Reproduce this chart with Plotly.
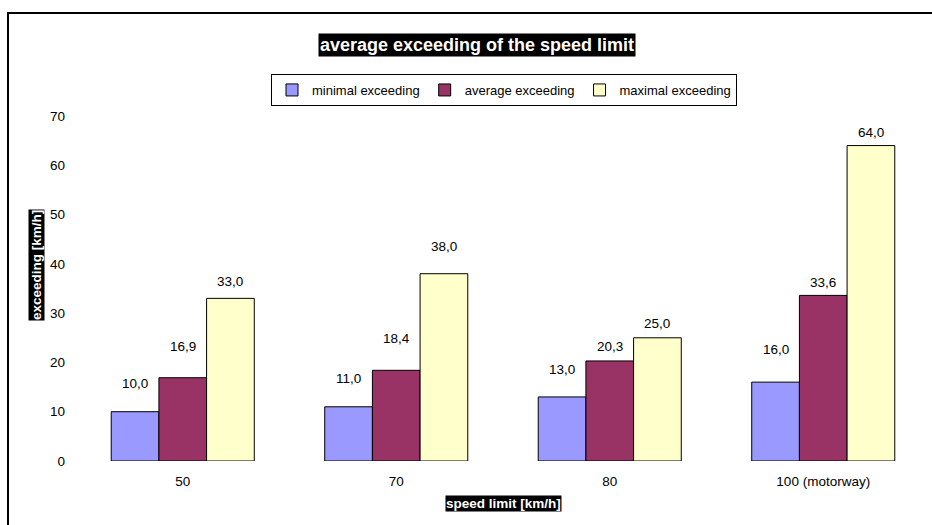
import plotly.graph_objects as go

categories = ["50", "70", "80", "100 (motorway)"]
minimal_exceeding = [10.0, 11.0, 13.0, 16.0]
average_exceeding = [16.9, 18.4, 20.3, 33.6]
maximal_exceeding = [33.0, 38.0, 25.0, 64.0]
series_names = ["minimal exceeding", "average exceeding", "maximal exceeding"]
y_ticks = [0, 10, 20, 30, 40, 50, 60, 70]

# styling
colors = ["#9999FF", "#993366", "#FFFFCC"]
label_gap_px = [[28, 31, 17], [28, 32, 27], [27, 14, 14], [33, 13, 13.5]]
FONT = "Arial, 'Liberation Sans', sans-serif"
W, H = 932, 525
ML, MR, MT, MB = 76, 2, 116, 64
BARGAP = 0.33

series = [minimal_exceeding, average_exceeding, maximal_exceeding]

fig = go.Figure()
for name, vals, col in zip(series_names, series, colors):
    fig.add_trace(go.Bar(
        x=categories, y=vals, name=name,
        marker=dict(color=col, line=dict(color="black", width=1)),
    ))

bw = (1 - BARGAP) / len(series)
annotations = []
for s, vals in enumerate(series):
    for i, v in enumerate(vals):
        annotations.append(dict(
            x=i + (s - (len(series) - 1) / 2) * bw, y=v, xref="x", yref="y",
            text=f"{v:.1f}".replace(".", ","), showarrow=False,
            xanchor="center", yanchor="middle", yshift=label_gap_px[i][s],
            font=dict(family=FONT, size=13.5, color="black"),
        ))

pw = W - ML - MR
ph = H - MT - MB


def px_x(p):
    return (p - ML) / pw


def px_y(p):
    return (H - MB - p) / ph


annotations += [
    dict(text="<b>average exceeding of the speed limit</b>", xref="paper", yref="paper",
         x=px_x(477), y=px_y(45), xanchor="center", yanchor="middle",
         showarrow=False, bgcolor="black",
         font=dict(family=FONT, size=18, color="white"), borderpad=1),
    dict(text="<b>exceeding [km/h]</b>", xref="paper", yref="paper",
         x=px_x(36), y=px_y(265), xanchor="center", yanchor="middle",
         showarrow=False, bgcolor="black", textangle=-90,
         font=dict(family=FONT, size=13.5, color="white"), borderpad=0),
    dict(text="<b>speed limit [km/h]</b>", xref="paper", yref="paper",
         x=px_x(503), y=px_y(503), xanchor="center", yanchor="middle",
         showarrow=False, bgcolor="black",
         font=dict(family=FONT, size=13.5, color="white"), borderpad=0),
]

fig.update_layout(
    width=W, height=H,
    margin=dict(l=ML, r=MR, t=MT, b=MB),
    paper_bgcolor="white", plot_bgcolor="white",
    barmode="group", bargap=BARGAP, bargroupgap=0,
    font=dict(family=FONT, size=13.5, color="black"),
    showlegend=True,
    legend=dict(orientation="h", x=px_x(504), xanchor="center", y=px_y(74), yanchor="top",
                bordercolor="black", borderwidth=1, font=dict(size=13),
                itemwidth=30, tracegroupgap=0),
    annotations=annotations,
    shapes=[dict(type="rect", xref="paper", yref="paper",
                 x0=px_x(8), x1=px_x(960), y0=px_y(560), y1=px_y(13),
                 line=dict(color="black", width=2), fillcolor="rgba(0,0,0,0)", layer="below")],
)
fig.update_xaxes(showgrid=False, showline=False, zeroline=False, ticks="",
                 ticklabelstandoff=10, tickfont=dict(size=13.5))
fig.update_yaxes(range=[0, 70], tickvals=y_ticks, showgrid=False, showline=False,
                 zeroline=False, ticks="", ticklabelstandoff=10, tickfont=dict(size=13.5))

fig.write_html("out.html")
